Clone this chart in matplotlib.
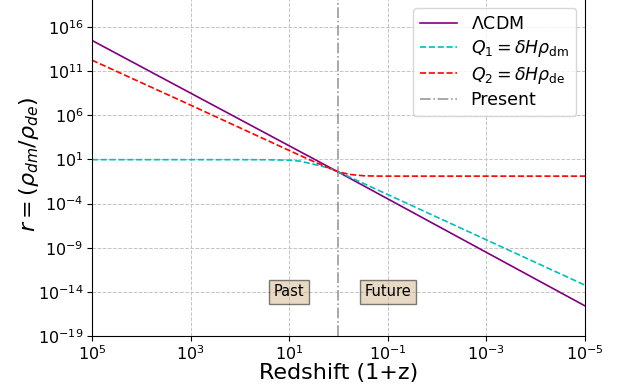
import matplotlib.pyplot as plt
import numpy as np

# Datos (x = 1+z, r = rho_dm/rho_de)
x_lcdm = [1e5, 1, 1e-5]
r_lcdm = [3.1e14, 0.37, 2.6e-16]

x_q1 = [1e5, 1e3, 1e2, 30, 10, 6, 3.8, 2.5, 1.7, 1, 0.5, 1e-5]
r_q1 = [9.5, 9.5, 9.5, 9.3, 8.3, 6.5, 3.6, 2.1, 1.2, 0.39, 0.066, 5.8e-14]

x_q2 = [1e5, 1e3, 1e1, 3, 1.5, 1, 0.58, 0.3, 0.14, 1e-5]
r_q2 = [1.8e12, 1.45e7, 105, 5.0, 1.0, 0.39, 0.2, 0.14, 0.13, 0.13]

x_present = 1
x_ticks = [1e5, 1e3, 1e1, 1e-1, 1e-3, 1e-5]
y_ticks = [1e-19, 1e-14, 1e-9, 1e-4, 1e1, 1e6, 1e11, 1e16]

# gráfica
fig = plt.figure(figsize=(6.21, 3.89), dpi=100)
ax = fig.add_axes([0.148, 0.1362, 0.794, 0.885])

ax.plot(x_lcdm, r_lcdm, color='purple', lw=1.2, label=r'$\Lambda$CDM')
ax.plot(x_q1, r_q1, color='c', ls='--', lw=1.2, label=r'$Q_1=\delta H\rho_{\rm dm}$')
ax.plot(x_q2, r_q2, color='r', ls='--', lw=1.2, label=r'$Q_2=\delta H\rho_{\rm de}$')
ax.axvline(x_present, color='gray', ls='-.', lw=1.2, alpha=0.8, label='Present')

ax.set_xscale('log')
ax.set_yscale('log')
ax.set_xlim(1e5, 1e-5)
ax.set_ylim(1e-19, 1e20)
ax.set_xticks(x_ticks)
ax.set_yticks(y_ticks)
ax.minorticks_off()
ax.tick_params(labelsize=11.5, length=3.5, pad=2.5)
ax.grid(True, ls='--', color='#c4c4c4', lw=0.7)

ax.set_xlabel('Redshift (1+z)', fontsize=16, labelpad=0)
ax.set_ylabel(r'$r=(\rho_{dm}/\rho_{de})$', fontsize=16, labelpad=-2)

caja = dict(boxstyle='square', facecolor='tan', alpha=0.5)
ax.text(1e1, 1e-14, 'Past', fontsize=10.5, ha='center', va='center', bbox=caja)
ax.text(1e-1, 1e-14, 'Future', fontsize=10.5, ha='center', va='center', bbox=caja)

ax.legend(loc='upper right', fontsize=12.5, labelspacing=0.3, handlelength=2.1,
          bbox_to_anchor=(0.9275, 0.979), bbox_transform=fig.transFigure,
          borderaxespad=0)

fig.savefig('out.png', dpi=100)
